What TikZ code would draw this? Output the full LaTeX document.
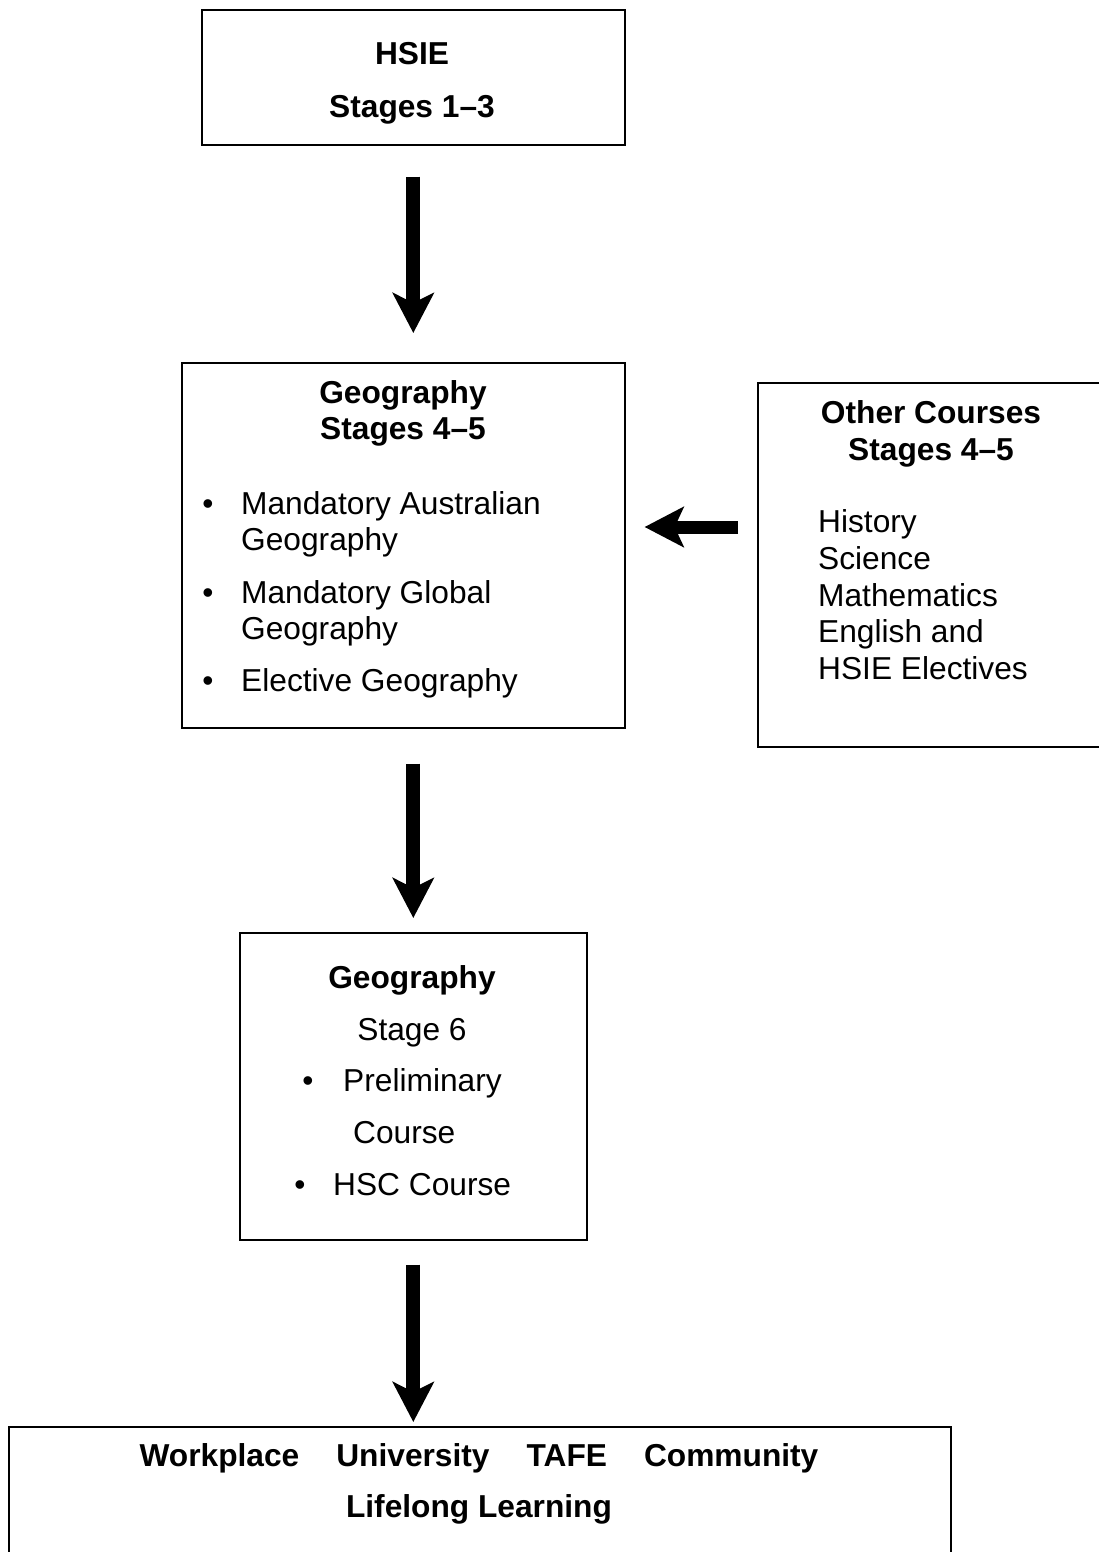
\documentclass[tikz,border=0pt]{standalone}
\usepackage{fontspec}
\setmainfont{Liberation Sans}
\usetikzlibrary{arrows.meta,calc}
\begin{document}
\begin{tikzpicture}[x=1pt,y=-1pt,
  box/.style={draw=black,line width=1.6pt,rectangle,inner sep=0pt,anchor=north west},
  txt/.style={inner sep=0pt,anchor=base,font=\fontsize{31.7}{36.8}\selectfont},
  btxt/.style={inner sep=0pt,anchor=base,font=\fontsize{31.7}{36.8}\selectfont\bfseries},
  ltxt/.style={inner sep=0pt,anchor=base west,font=\fontsize{31.7}{36.8}\selectfont},
  bigarrow/.style={line width=14pt,-{Stealth[length=40pt,width=41pt,inset=10pt]}},
  hbigarrow/.style={line width=13pt,-{Stealth[length=39pt,width=40pt,inset=9pt]}},
]
\useasboundingbox (0,0) rectangle (1099,1552);
\clip (0,0) rectangle (1099,1552);

% boxes
\node[box,minimum width=423pt,minimum height=135pt] (b1) at (201,9) {};
\node[box,minimum width=443pt,minimum height=365pt] (b2) at (181,362) {};
\node[box,minimum width=360pt,minimum height=364pt] (b3) at (757,382) {};
\node[box,minimum width=347pt,minimum height=307pt] (b4) at (239,932) {};
\node[box,minimum width=942pt,minimum height=150pt] (b5) at (8,1426) {};

% box 1
\node[btxt] (t1a) at (412,65) {HSIE};
\node[btxt] (t1b) at (412,118) {Stages 1–3};

% box 2
\node[btxt] (t2a) at (403,403) {Geography};
\node[btxt] (t2b) at (403,439) {Stages 4–5};
\node[txt] (u1) at (208,514) {•};
\node[ltxt] (l1) at (241,514) {Mandatory Australian};
\node[ltxt] (l2) at (241,550) {Geography};
\node[txt] (u2) at (208,603) {•};
\node[ltxt] (l3) at (241,603) {Mandatory Global};
\node[ltxt] (l4) at (241,639) {Geography};
\node[txt] (u3) at (208,691) {•};
\node[ltxt] (l5) at (241,691) {Elective Geography};

% box 3
\node[btxt] (t3a) at (931,423) {Other Courses};
\node[btxt] (t3b) at (931,460) {Stages 4–5};
\node[ltxt] (o1) at (818,532) {History};
\node[ltxt] (o2) at (818,569) {Science};
\node[ltxt] (o3) at (818,606) {Mathematics};
\node[ltxt] (o4) at (818,642) {English and};
\node[ltxt] (o5) at (818,679) {HSIE Electives};

% box 4
\node[btxt] (t4a) at (412,988) {Geography};
\node[txt] (t4b) at (412,1040) {Stage 6};
\node[txt] (u4) at (308,1091) {•};
\node[ltxt] (p1) at (343,1091) {Preliminary};
\node[ltxt] (p2) at (353,1143) {Course};
\node[txt] (u5) at (300,1195) {•};
\node[ltxt] (p3) at (333,1195) {HSC Course};

% box 5
\node[btxt] (t5a) at (479,1466) {Workplace\hspace{37pt}University\hspace{37pt}TAFE\hspace{37pt}Community};
\node[btxt] (t5b) at (479,1517) {Lifelong Learning};

% arrows
\coordinate (hy) at (0,527);
\draw[bigarrow] ($(b1.south)+(0,31)$) -- ($(b1.south |- b2.north)+(0,-29)$);
\draw[bigarrow] ($(b4.north |- b2.south)+(0,35)$) -- ($(b4.north)+(0,-14)$);
\draw[bigarrow] ($(b4.south)+(0,24)$) -- ($(b4.south |- b5.north)+(0,-4)$);
\draw[hbigarrow] ($(b3.west |- hy)+(-19,0)$) -- ($(b2.east |- hy)+(19,0)$);
\end{tikzpicture}
\end{document}
